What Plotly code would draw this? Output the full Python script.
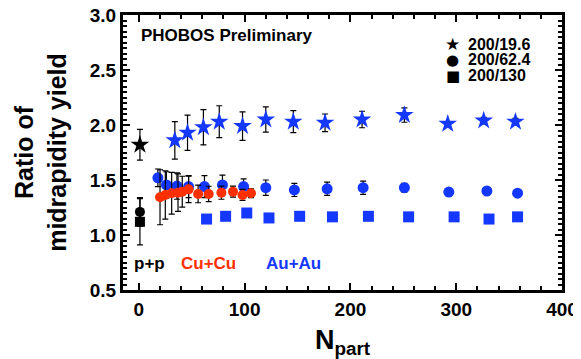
import plotly.graph_objects as go

# ---- data ----
pp_x = [1]
pp_star_y = [1.82]; pp_star_err = [0.14]
pp_circ_y = [1.21]; pp_circ_err = [0.13]
pp_sq_y = [1.12]; pp_sq_err = [0.21]

au_star_x = [34, 46, 61, 76, 98, 120, 146, 176, 211, 251, 292, 326, 356]
au_star_y = [1.86, 1.93, 1.98, 2.03, 1.99, 2.05, 2.03, 2.02, 2.05, 2.09, 2.01, 2.04, 2.03]
au_star_err = [0.17, 0.16, 0.16, 0.145, 0.13, 0.115, 0.10, 0.08, 0.075, 0.065, 0.02, 0.03, 0.03]

au_circ_x = [18, 26, 36, 47, 62, 79, 99, 120, 147, 178, 212, 251, 293, 329, 358]
au_circ_y = [1.52, 1.455, 1.445, 1.44, 1.44, 1.455, 1.44, 1.43, 1.41, 1.42, 1.43, 1.43, 1.39, 1.40, 1.38]
au_circ_err = [0.08, 0.12, 0.12, 0.10, 0.10, 0.09, 0.07, 0.07, 0.06, 0.06, 0.06, 0.04, 0.02, 0.02, 0.02]

au_sq_x = [64, 82, 102, 123, 152, 183, 217, 255, 298, 331, 358]
au_sq_y = [1.145, 1.17, 1.20, 1.155, 1.17, 1.165, 1.17, 1.165, 1.165, 1.145, 1.165]

cu_x = [20, 25, 31, 37, 41, 47, 56, 66, 78, 89, 98, 106]
cu_y = [1.343, 1.364, 1.379, 1.385, 1.394, 1.415, 1.373, 1.373, 1.385, 1.394, 1.364, 1.379]
cu_err = [0.25, 0.22, 0.19, 0.17, 0.14, 0.12, 0.08, 0.07, 0.06, 0.05, 0.05, 0.04]

legend_labels = ["200/19.6", "200/62.4", "200/130"]
legend_symbols = ["\u2605", "\u25CF", "\u25A0"]
x_ticks = [0, 100, 200, 300, 400]
y_ticks = [0.5, 1.0, 1.5, 2.0, 2.5, 3.0]

BLUE = "#1438ff"
RED = "#ff3000"
FONT = "Liberation Sans, Arial, sans-serif"

def eb(err):
    return dict(type="data", array=err, color="black", thickness=1.2, width=3)

fig = go.Figure()

fig.add_trace(go.Scatter(x=au_circ_x, y=au_circ_y, mode="markers", error_y=eb(au_circ_err),
                         marker=dict(symbol="circle", size=11, color=BLUE), showlegend=False))
fig.add_trace(go.Scatter(x=cu_x, y=cu_y, mode="markers", error_y=eb(cu_err),
                         marker=dict(symbol="circle", size=10, color=RED), showlegend=False))
fig.add_trace(go.Scatter(x=au_sq_x, y=au_sq_y, mode="markers",
                         marker=dict(symbol="square", size=11, color=BLUE), showlegend=False))
fig.add_trace(go.Scatter(x=au_star_x, y=au_star_y, mode="markers", error_y=eb(au_star_err),
                         marker=dict(symbol="star", size=14, color=BLUE), showlegend=False))
fig.add_trace(go.Scatter(x=pp_x, y=pp_sq_y, mode="markers", error_y=eb(pp_sq_err),
                         marker=dict(symbol="square", size=10, color="black"), showlegend=False))
fig.add_trace(go.Scatter(x=pp_x, y=pp_circ_y, mode="markers", error_y=eb(pp_circ_err),
                         marker=dict(symbol="circle", size=10, color="black"), showlegend=False))
fig.add_trace(go.Scatter(x=pp_x, y=pp_star_y, mode="markers", error_y=eb(pp_star_err),
                         marker=dict(symbol="star", size=14, color="black"), showlegend=False))

axis_common = dict(
    showline=True, linecolor="black", linewidth=3, mirror="ticks",
    ticks="inside", ticklen=7, tickwidth=2, tickcolor="black",
    showgrid=False, zeroline=False, automargin=False, ticklabeloverflow="allow",
    tickfont=dict(family=FONT, size=19, color="black", weight="bold"),
)

fig.update_xaxes(range=[-15, 400], tickvals=x_ticks, ticktext=[str(v) for v in x_ticks],
                 minor=dict(ticks="inside", ticklen=4, tickwidth=2, dtick=20, tick0=0, tickcolor="black"),
                 title=dict(text="N<sub>part</sub>", standoff=12,
                            font=dict(family=FONT, size=27, color="black", weight="bold")),
                 **axis_common)
fig.update_yaxes(range=[0.5, 3.0], tickvals=y_ticks, ticktext=["%.1f" % v for v in y_ticks],
                 minor=dict(ticks="inside", ticklen=4, tickwidth=2, dtick=0.05, tick0=0.5, tickcolor="black"),
                 title=dict(text="Ratio of<br>midrapidity yield", standoff=17,
                            font=dict(family=FONT, size=25, color="black", weight="bold")),
                 **axis_common)

ann_font = dict(family=FONT, size=17, weight="bold")
annotations = [
    dict(text="PHOBOS Preliminary", xref="paper", yref="paper", x=0.036, y=0.927,
         xanchor="left", yanchor="middle", showarrow=False, font=dict(color="black", **ann_font)),
    dict(text="p+p", xref="paper", yref="paper", x=0.021, y=0.098,
         xanchor="left", yanchor="middle", showarrow=False, font=dict(color="black", **ann_font)),
    dict(text="Cu+Cu", xref="paper", yref="paper", x=0.128, y=0.098,
         xanchor="left", yanchor="middle", showarrow=False, font=dict(color=RED, **ann_font)),
    dict(text="Au+Au", xref="paper", yref="paper", x=0.321, y=0.098,
         xanchor="left", yanchor="middle", showarrow=False, font=dict(color=BLUE, **ann_font)),
]
legend_rows = [0.8945, 0.8364, 0.7782]
symbol_sizes = [17, 15, 15]
for lab, sym, yy, ss in zip(legend_labels, legend_symbols, legend_rows, symbol_sizes):
    annotations.append(dict(text=sym, xref="paper", yref="paper", x=0.7517, y=yy,
                            xanchor="center", yanchor="middle", showarrow=False,
                            font=dict(family="DejaVu Sans", size=ss, color="black")))
    annotations.append(dict(text=lab, xref="paper", yref="paper", x=0.781, y=yy,
                            xanchor="left", yanchor="middle", showarrow=False,
                            font=dict(family=FONT, size=16, color="black", weight="bold")))

fig.update_layout(
    width=573, height=351,
    margin=dict(l=115, r=19, t=7, b=69, autoexpand=False),
    paper_bgcolor="white", plot_bgcolor="white",
    showlegend=False,
    annotations=annotations,
)

fig.write_html("out.html")
